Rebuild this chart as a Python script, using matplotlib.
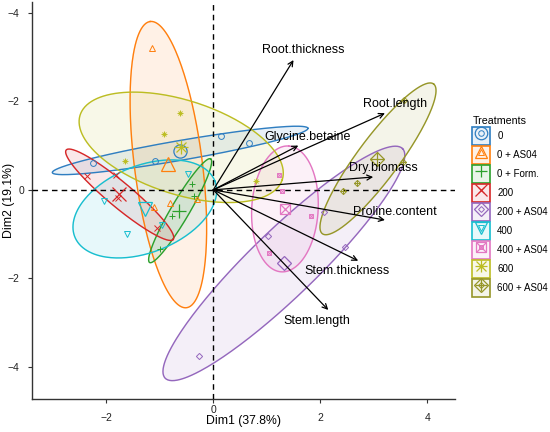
import numpy as np
import matplotlib
matplotlib.use("Agg")
import matplotlib.pyplot as plt
from matplotlib.colors import to_rgba
from matplotlib.lines import Line2D
from matplotlib.patches import Patch

plt.rcParams["font.family"] = ["Liberation Sans", "DejaVu Sans"]

treatments = ["0", "0 + AS04", "0 + Form.", "200", "200 + AS04",
              "400", "400 + AS04", "600", "600 + AS04"]
colors = ["#2f7ec1", "#ff7f0e", "#2ca02c", "#d62728", "#9467bd",
          "#17becf", "#e377c2", "#bcbd22", "#969628"]
shapes = ["o", "^", "+", "x", "D", "v", "sx", "+x", "D+"]

# individual scores, one row per treatment (Dim2 axis is drawn reversed)
dim1_scores = [
    [-2.24, -1.09, 0.14, 0.67],
    [-1.15, -0.81, -1.11, -0.31],
    [-0.40, -0.36, -0.77, -1.00],
    [-2.37, -1.82, -1.05, -1.79],
    [2.07, 1.03, 2.46, -0.26],
    [-0.47, -2.04, -0.95, -1.62],
    [1.22, 1.28, 1.83, 1.05],
    [-0.62, -0.92, -1.65, 0.80],
    [3.56, 3.55, 2.68, 2.43],
]
dim2_scores = [
    [-0.60, -0.66, -1.22, -1.05],
    [-3.21, 0.29, 0.38, 0.20],
    [-0.13, 0.13, 0.59, 1.34],
    [-0.32, -0.34, 0.87, 0.18],
    [0.51, 1.05, 1.30, 3.76],
    [-0.36, 0.26, 0.79, 1.00],
    [-0.34, 0.02, 0.60, 1.43],
    [-1.73, -1.26, -0.66, -0.19],
    [-2.02, -0.62, -0.15, 0.02],
]

# concentration ellipses: centre and two conjugate half-axes (Dim1, Dim2)
ell_center = [(-0.62, -0.89), (-0.84, -0.57), (-0.62, 0.47), (-1.75, 0.11), (1.32, 1.66),
              (-1.28, 0.43), (1.34, 0.43), (-0.60, -0.96), (3.08, -0.70)]
ell_major = [(2.39, -0.50), (-0.34, -3.23), (0.57, -1.17), (1.00, 1.01), (2.22, -2.59),
             (1.31, -0.63), (0.07, -1.42), (1.89, 0.73), (1.04, -1.69)]
ell_minor = [(0.03, 0.22), (0.63, -0.10), (0.15, 0.10), (0.15, -0.21), (0.43, 0.54),
             (0.30, 0.91), (0.62, 0.05), (-0.27, 1.01), (0.31, 0.28)]

# variable arrows
var_names = ["Root.thickness", "Root.length", "Glycine.betaine", "Dry.biomass",
             "Proline.content", "Stem.thickness", "Stem.length"]
var_dim1 = [1.50, 3.21, 1.59, 2.99, 3.21, 2.71, 2.15]
var_dim2 = [-2.93, -1.73, -1.00, -0.29, 0.68, 1.60, 2.71]
label_dim1 = [1.68, 3.40, 1.76, 3.18, 3.40, 2.51, 1.93]
label_dim2 = [-3.16, -1.94, -1.20, -0.50, 0.49, 1.84, 2.95]


def marker_parts(shape):
    if shape == "sx":
        return [("s", 0.75), ("x", 0.75)]
    if shape == "+x":
        return [("+", 1.0), ("x", 0.8)]
    if shape == "D+":
        return [("D", 0.75), ("+", 1.0)]
    if shape == "D":
        return [("D", 0.75)]
    return [(shape, 1.0)]


def draw_points(ax, x, y, shape, color, size, lw):
    for m, k in marker_parts(shape):
        ax.plot(x, y, linestyle="none", marker=m, markersize=size * k,
                markerfacecolor="none", markeredgecolor=color, markeredgewidth=lw, zorder=4)


fig, ax = plt.subplots(figsize=(5.5, 4.32), dpi=100)
fig.subplots_adjust(left=32 / 550, right=455 / 550, bottom=33 / 432, top=430 / 432)

t = np.linspace(0, 2 * np.pi, 240)
for i, color in enumerate(colors):
    cx, cy = ell_center[i]
    ex = cx + np.cos(t) * ell_major[i][0] + np.sin(t) * ell_minor[i][0]
    ey = cy + np.cos(t) * ell_major[i][1] + np.sin(t) * ell_minor[i][1]
    ax.fill(ex, ey, color=to_rgba(color, 0.1), zorder=1)
    ax.plot(ex, ey, color=color, linewidth=1.0, zorder=2)

ax.axhline(0, color="black", linestyle=(0, (4, 3)), linewidth=1.0, zorder=3)
ax.axvline(0, color="black", linestyle=(0, (4, 3)), linewidth=1.0, zorder=3)

for i, color in enumerate(colors):
    xs, ys = dim1_scores[i], dim2_scores[i]
    draw_points(ax, xs, ys, shapes[i], color, 4.2, 0.7)
    draw_points(ax, [np.mean(xs)], [np.mean(ys)], shapes[i], color, 9.5, 0.9)

for name, vx, vy, lx, ly in zip(var_names, var_dim1, var_dim2, label_dim1, label_dim2):
    ax.annotate("", xy=(vx, vy), xytext=(0, 0),
                arrowprops=dict(arrowstyle="->", color="black", lw=0.9,
                                shrinkA=0, shrinkB=0, mutation_scale=9), zorder=5)
    ax.text(lx, ly, name, ha="center", va="center", fontsize=9, color="black", zorder=6)

ax.set_xlim(-3.39, 4.52)
ax.set_ylim(4.72, -4.24)
ax.set_xticks([-2, 0, 2, 4])
ax.set_xticklabels(["\u22122", "0", "2", "4"])
ax.set_yticks([-4, -2, 0, 2, 4])
ax.set_yticklabels(["\u22124", "\u22122", "0", "\u22122", "\u22124"])
ax.tick_params(axis="x", pad=7)
ax.tick_params(axis="y", pad=6)
ax.tick_params(labelsize=7.5, length=3, width=0.8, color="#333333", labelcolor="#222222")
# the zero labels sit closer to the axis in the original
ax.xaxis.get_major_ticks()[1].label1.set_y(0.02)
ax.yaxis.get_major_ticks()[2].label1.set_x(0.011)
for side in ["top", "right"]:
    ax.spines[side].set_visible(False)
for side in ["left", "bottom"]:
    ax.spines[side].set_linewidth(1.0)
    ax.spines[side].set_color("#333333")
ax.set_xlabel("Dim1 (37.8%)", fontsize=8.8)
ax.xaxis.set_label_coords(0.5, -0.04)
ax.set_ylabel("Dim2 (19.1%)", fontsize=8.8)
ax.yaxis.set_label_coords(-0.04, 0.5)

handles = []
for color, shape in zip(colors, shapes):
    parts = [Patch(facecolor=to_rgba(color, 0.1), edgecolor=color, linewidth=1.2)]
    for m, k in marker_parts(shape):
        parts.append(Line2D([], [], linestyle="none", marker=m, markersize=9 * k,
                            markerfacecolor="none", markeredgecolor=color, markeredgewidth=0.9))
        parts.append(Line2D([], [], linestyle="none", marker=m, markersize=4 * k,
                            markerfacecolor="none", markeredgecolor=color, markeredgewidth=0.7))
    handles.append(tuple(parts))

leg = ax.legend(handles, treatments, title="Treatments", loc="upper left",
                bbox_to_anchor=(465.5 / 550, 1 - 109 / 432), bbox_transform=fig.transFigure,
                frameon=False, fontsize=7, title_fontsize=7.7, handlelength=1.86,
                handleheight=2.48, labelspacing=0.1, handletextpad=0.7, borderpad=0.2,
                alignment="left")

fig.savefig("out.png", dpi=100)
